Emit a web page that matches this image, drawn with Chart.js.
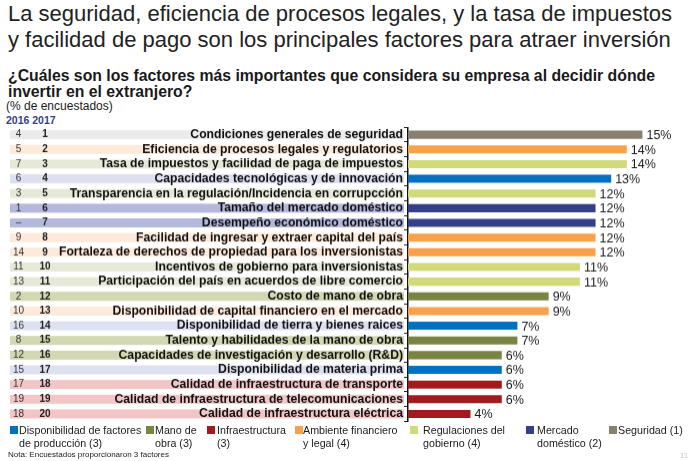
<!DOCTYPE html>
<html><head><meta charset="utf-8">
<script src="https://cdn.jsdelivr.net/npm/chart.js@4/dist/chart.umd.min.js"></script>
<style>
body{margin:0;width:694px;height:461px;background:#fff;position:relative;overflow:hidden;font-family:"Liberation Sans",Arial,sans-serif;}
.t{position:absolute;white-space:nowrap;color:#1a1a1a;}
#title{left:8px;top:1px;font-size:22px;line-height:26px;color:#222;}
#sub{left:8px;top:68px;font-size:15.8px;font-weight:bold;line-height:16px;}
#unit{left:6px;top:99px;font-size:12px;line-height:14px;}
#years{left:6px;top:114px;font-size:10.5px;line-height:12px;font-weight:bold;color:#333f85;}
#wrap{position:absolute;left:0;top:119.3px;width:694px;height:309.6px;}
.leg{position:absolute;top:423.5px;font-size:10.7px;line-height:13px;color:#1a1a1a;white-space:nowrap;}
.leg i{position:absolute;top:2px;width:8px;height:8px;}
.leg span{display:block;}
#note{left:8px;top:450px;font-size:8px;line-height:10px;}
#page{left:680px;top:451px;font-size:8px;line-height:10px;color:#c8c8c8;}
</style>
</head>
<body>
<div class="t" id="title">La seguridad, eficiencia de procesos legales, y la tasa de impuestos<br>y facilidad de pago son los principales factores para atraer inversión</div>
<div class="t" id="sub">¿Cuáles son los factores más importantes que considera su empresa al decidir dónde<br>invertir en el extranjero?</div>
<div class="t" id="unit">(% de encuestados)</div>
<div class="t" id="years">2016 2017</div>
<div id="wrap"><canvas id="c"></canvas></div>
<div id="legend"></div>
<div class="t" id="note">Nota: Encuestados proporcionaron 3 factores</div>
<div class="t" id="page">11</div>
<script>
const categories = [
  "Condiciones generales de seguridad",
  "Eficiencia de procesos legales y regulatorios",
  "Tasa de impuestos y facilidad de paga de impuestos",
  "Capacidades tecnológicas y de innovación",
  "Transparencia en la regulación/Incidencia en corrupcción",
  "Tamaño del mercado doméstico",
  "Desempeño económico doméstico",
  "Facilidad de ingresar y extraer capital del país",
  "Fortaleza de derechos de propiedad para los inversionistas",
  "Incentivos de gobierno para inversionistas",
  "Participación del país en acuerdos de libre comercio",
  "Costo de mano de obra",
  "Disponibilidad de capital financiero en el mercado",
  "Disponibilidad de tierra y bienes raices",
  "Talento y habilidades de la mano de obra",
  "Capacidades de investigación y desarrollo (R&D)",
  "Disponibilidad de materia prima",
  "Calidad de infraestructura de transporte",
  "Calidad de infraestructura de telecomunicaciones",
  "Calidad de infraestructura eléctrica"
];
const values = [15,14,14,13,12,12,12,12,12,11,11,9,9,7,7,6,6,6,6,4];
const rank2016 = ["4","5","7","6","3","1","–","9","14","11","13","2","10","16","8","12","15","17","19","18"];
const rank2017 = ["1","2","3","4","5","6","7","8","9","10","11","12","13","14","15","16","17","18","19","20"];
const groupOf = [6,3,4,0,4,5,5,3,3,4,4,1,3,0,1,1,0,2,2,2];
const groupNames = [
  ["Disponibilidad de factores","de producción (3)"],
  ["Mano de","obra (3)"],
  ["Infraestructura","(3)"],
  ["Ambiente financiero","y legal (4)"],
  ["Regulaciones del","gobierno (4)"],
  ["Mercado","doméstico (2)"],
  ["Seguridad (1)"]
];
const groupColors = ["#0070c0","#7a8442","#a01a1e","#f9a04b","#d1d97a","#333f87","#878071"];
const bandColors  = ["#dde0f1","#d2d8b2","#f2c5c7","#fdeadb","#e6e9d7","#b4b8dd","#ebebeb"];
const legendMarkX = [10,146,207,295,410,526,609];
const legendTextX = [19,155,217,303,423,537,618];

const FONT = '"Liberation Sans", Arial, sans-serif';

// legend (HTML)
const lg = document.getElementById('legend');
groupNames.forEach((lines,i)=>{
  const d = document.createElement('div');
  d.className='leg'; d.style.left=legendTextX[i]+'px';
  d.innerHTML = '<i style="background:'+groupColors[i]+';left:'+(legendMarkX[i]-legendTextX[i])+'px"></i>' + lines.map(s=>'<span>'+s+'</span>').join('');
  lg.appendChild(d);
});

const bandPlugin = {
  id:'bands',
  beforeDraw(chart){
    const ctx = chart.ctx, y = chart.scales.y;
    ctx.save();
    categories.forEach((c,i)=>{
      const py = y.getPixelForValue(i);
      ctx.fillStyle = bandColors[groupOf[i]];
      ctx.fillRect(10, py-4.5, chart.chartArea.left-14, 9);
    });
    ctx.restore();
  },
  afterDatasetsDraw(chart){
    const ctx = chart.ctx;
    const meta = chart.getDatasetMeta(0);
    ctx.save();
    ctx.font = '12.5px ' + FONT;
    ctx.fillStyle = '#1a1a1a';
    ctx.textBaseline = 'middle';
    meta.data.forEach((el,i)=>{
      ctx.fillText(values[i]+'%', el.x+4, el.y+1);
    });
    ctx.restore();
  }
};

new Chart(document.getElementById('c'), {
  type:'bar',
  data:{
    labels: categories,
    datasets:[{
      data: values,
      backgroundColor: groupOf.map(g=>groupColors[g]),
      borderWidth:0,
      categoryPercentage:1,
      barPercentage:0.55
    }]
  },
  options:{
    indexAxis:'y',
    responsive:true,
    maintainAspectRatio:false,
    animation:false,
    layout:{padding:0},
    plugins:{legend:{display:false},tooltip:{enabled:false}},
    scales:{
      x:{type:'linear',min:0,max:18.3,display:false},
      y:{
        type:'category', position:'left', weight:0, offset:true,
        grid:{display:true,drawOnChartArea:false,drawTicks:true,tickLength:4,color:'#222',offset:true,lineWidth:1},
        border:{display:true,color:'#111',width:1.5},
        ticks:{autoSkip:false,padding:1,color:'#111',font:{family:FONT,size:12.2,weight:'bold'}},
        afterFit(s){s.width=357.5;}
      },
      y2017:{
        type:'category', labels:rank2017, position:'left', weight:1, offset:true,
        grid:{display:false,drawTicks:false}, border:{display:false},
        ticks:{autoSkip:false,padding:0,crossAlign:'center',color:'#222',font:{family:FONT,size:10,weight:'bold'}},
        afterFit(s){s.width=26.5;}
      },
      y2016:{
        type:'category', labels:rank2016, position:'left', weight:2, offset:true,
        grid:{display:false,drawTicks:false}, border:{display:false},
        ticks:{autoSkip:false,padding:0,crossAlign:'center',color:'#333',font:{family:FONT,size:10}},
        afterFit(s){s.width=24;}
      }
    }
  },
  plugins:[bandPlugin]
});
</script>
</body></html>
